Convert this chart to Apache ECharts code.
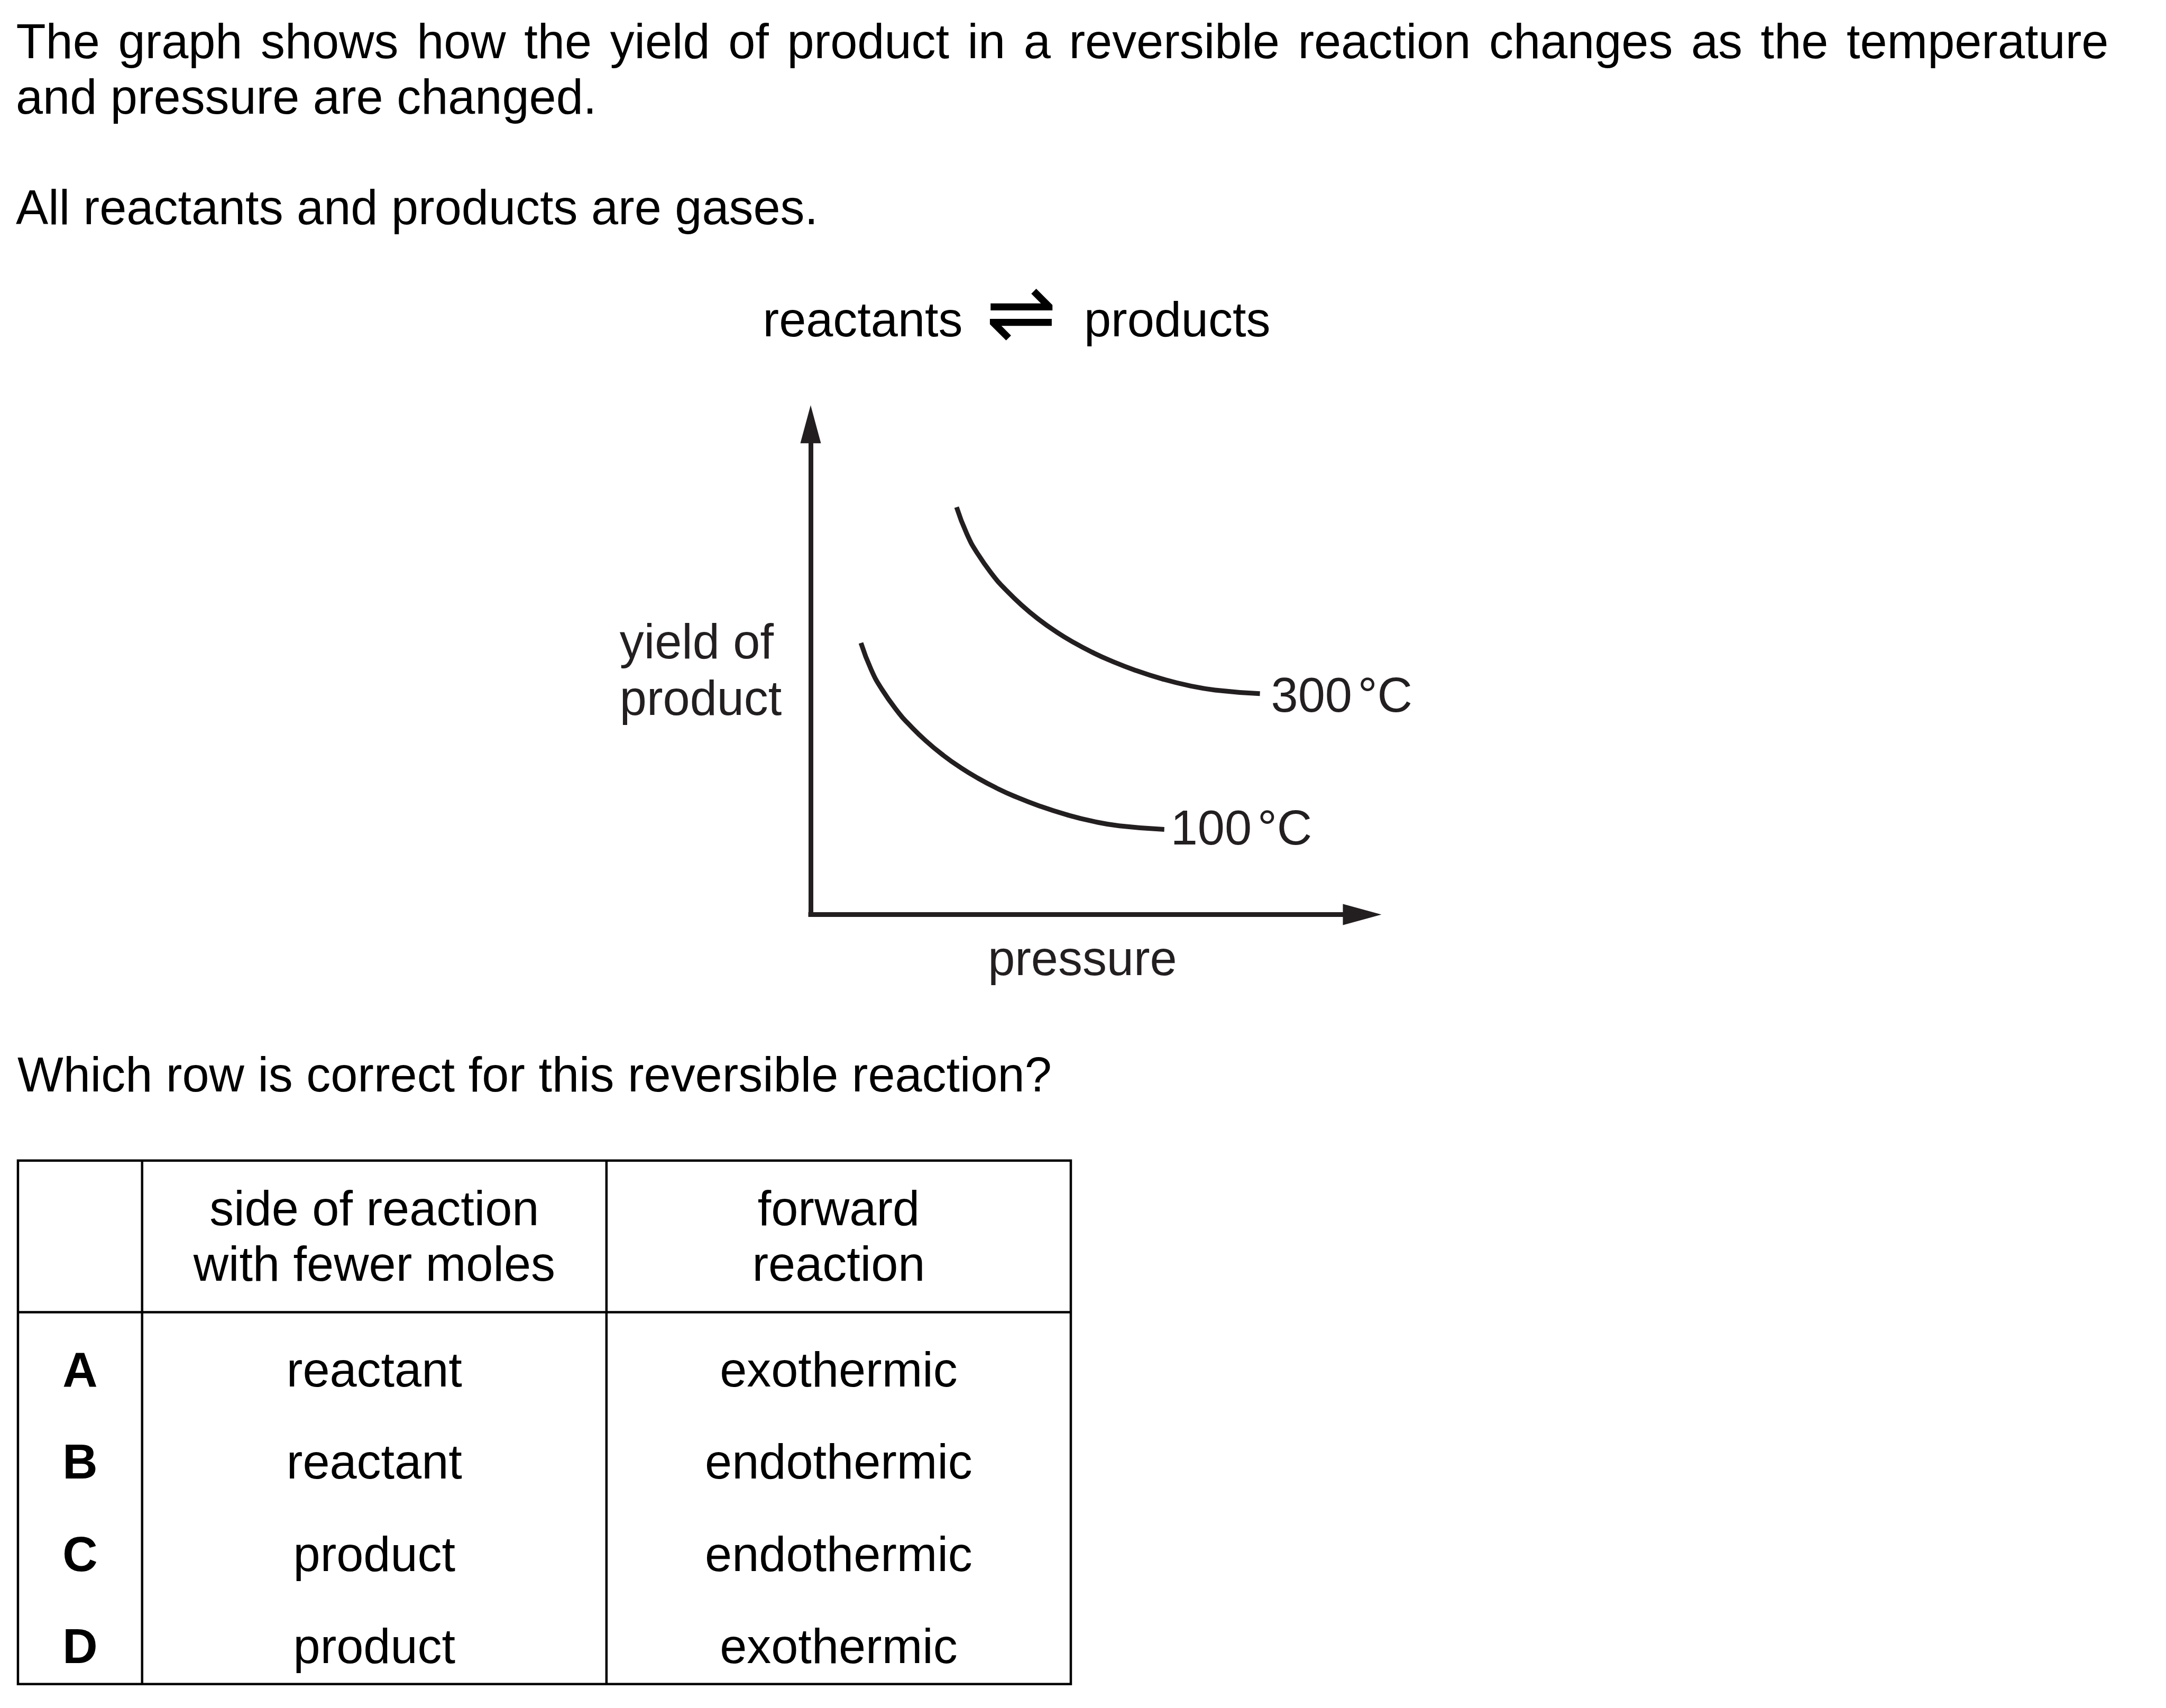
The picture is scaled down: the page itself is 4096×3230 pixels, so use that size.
<!DOCTYPE html>
<html>
<head>
<meta charset="utf-8">
<title>Yield of product against pressure</title>
<script src="https://cdn.jsdelivr.net/npm/echarts@6.0.0/dist/echarts.min.js"></script>
<style>
html, body { margin: 0; padding: 0; background: #ffffff; overflow: hidden; }
#chart { width: 4096px; height: 3230px; }
</style>
</head>
<body>
<div id="chart"></div>
<script>
// ---------------- data ----------------
const introLine1 = 'The graph shows how the yield of product in a reversible reaction changes as the temperature';
const introLine2 = 'and pressure are changed.';
const gasesLine = 'All reactants and products are gases.';
const equationLeft = 'reactants';
const equationArrow = '\u21CC';
const equationRight = 'products';
const yAxisTitle = ['yield of', 'product'];
const xAxisTitle = 'pressure';
const curveNames = ['300 °C', '100 °C'];

// values (arbitrary 0-100 units on both axes)
const pressure300 = [26.46, 28.30, 30.22, 33.41, 35.01, 38.20, 41.40, 44.59, 47.78, 50.98, 54.17, 58.96, 63.74, 68.53, 73.32, 81.46];
const yield300    = [83.09, 77.68, 73.69, 68.67, 66.66, 63.15, 60.16, 57.62, 55.44, 53.53, 51.88, 49.78, 48.06, 46.71, 45.79, 45.06];
const pressure100 = [9.12, 10.96, 12.88, 16.07, 17.67, 20.86, 24.06, 27.25, 30.44, 33.64, 36.83, 41.62, 46.40, 51.19, 55.98, 64.12];
const yield100    = [55.40, 49.99, 46.00, 40.98, 38.97, 35.46, 32.47, 29.93, 27.75, 25.84, 24.19, 22.09, 20.37, 19.02, 18.10, 17.37];

const questionText = 'Which row is correct for this reversible reaction?';
const headerSide = ['side of reaction', 'with fewer moles'];
const headerForward = ['forward', 'reaction'];
const rowLetters = ['A', 'B', 'C', 'D'];
const sideFewerMoles = ['reactant', 'reactant', 'product', 'product'];
const forwardReaction = ['exothermic', 'endothermic', 'endothermic', 'exothermic'];

// ---------------- layout (reference pixels, scaled by S) ----------------
const S = 0.999;
const P = v => v * S;
const FS = P(92);
const FONT = '"Liberation Sans", Arial, Helvetica, sans-serif';
const INK = '#231f20';
const BLACK = '#000000';
const MID = 0.3465;     // canvas "middle" line above baseline, in em
const BASE_FIX = 8;     // measured correction (reference px)

function textAt(text, x, baseline, opts) {
  opts = opts || {};
  const fs = opts.fs || FS;
  return {
    type: 'text', silent: true,
    x: P(x), y: P(baseline + BASE_FIX) - fs * MID,
    style: {
      text: text,
      fontSize: fs,
      fontFamily: opts.family || FONT,
      fontWeight: opts.weight || 'normal',
      fill: opts.fill || BLACK,
      align: opts.align || 'left',
      verticalAlign: 'middle',
      rich: opts.rich
    }
  };
}

// justified first line
const measureCtx = document.createElement('canvas').getContext('2d');
measureCtx.font = 'normal normal ' + FS + 'px ' + FONT;
const words1 = introLine1.split(' ');
const wordsWidth = words1.reduce((s, w) => s + measureCtx.measureText(w).width, 0);
const gapWidth = (P(3991.4 - 30.5) - wordsWidth) / (words1.length - 1);
const justified1 = words1.join('{g| }');

const graphics = [];
graphics.push(textAt(justified1, 30.5, 108.3, {
  rich: { g: { width: gapWidth, fontSize: FS, fontFamily: FONT } }
}));
graphics.push(textAt(introLine2, 30, 213.3));
graphics.push(textAt(gasesLine, 30, 423.3));

// equation
graphics.push(textAt(equationLeft, 1444, 635));
graphics.push({
  type: 'text', silent: true,
  x: P(1933), y: P(600.5 + BASE_FIX * 0.5),
  style: {
    text: equationArrow, fontSize: P(160), fontFamily: '"DejaVu Sans", sans-serif',
    fill: BLACK, align: 'center', verticalAlign: 'middle'
  }
});
graphics.push(textAt(equationRight, 2052, 635));

// axis titles
graphics.push(textAt(yAxisTitle[0], 1173, 1245, { fill: INK }));
graphics.push(textAt(yAxisTitle[1], 1173, 1352, { fill: INK }));
graphics.push(textAt(xAxisTitle, 1870, 1844, { fill: INK }));

// question
graphics.push(textAt(questionText, 33, 2065));

// table
const T = { left: 34, right: 2027, top: 2197, bottom: 3188, headSep: 2484, cols: [269, 1148] };
const LW = P(4.5);
graphics.push({
  type: 'rect', silent: true,
  shape: { x: P(T.left), y: P(T.top), width: P(T.right - T.left), height: P(T.bottom - T.top) },
  style: { fill: 'none', stroke: BLACK, lineWidth: LW }
});
graphics.push({
  type: 'line', silent: true,
  shape: { x1: P(T.left), y1: P(T.headSep), x2: P(T.right), y2: P(T.headSep) },
  style: { stroke: BLACK, lineWidth: LW }
});
T.cols.forEach(cx => {
  graphics.push({
    type: 'line', silent: true,
    shape: { x1: P(cx), y1: P(T.top), x2: P(cx), y2: P(T.bottom) },
    style: { stroke: BLACK, lineWidth: LW }
  });
});
const colCenters = [(T.left + T.cols[0]) / 2, (T.cols[0] + T.cols[1]) / 2, (T.cols[1] + T.right) / 2];
const headerBase = [2318, 2423];
headerSide.forEach((t, i) => graphics.push(textAt(t, colCenters[1], headerBase[i], { align: 'center' })));
headerForward.forEach((t, i) => graphics.push(textAt(t, colCenters[2], headerBase[i], { align: 'center' })));
const rowBase = [2623.5, 2797.5, 2972, 3147];
rowLetters.forEach((t, i) => {
  graphics.push(textAt(t, colCenters[0], rowBase[i], { align: 'center', weight: 'bold' }));
  graphics.push(textAt(sideFewerMoles[i], colCenters[1], rowBase[i], { align: 'center' }));
  graphics.push(textAt(forwardReaction[i], colCenters[2], rowBase[i], { align: 'center' }));
});

// ---------------- chart ----------------
const GRID = { left: 1534.5, top: 803, right: 2578.5, bottom: 1731.3 };

function richName(name) {
  const parts = name.split(' ');
  return '{n|' + parts[0] + '}{d|' + parts[1] + '}';
}
const labelRich = {
  n: { fontSize: FS, fontFamily: FONT, color: INK },
  d: { fontSize: FS, fontFamily: FONT, color: INK, padding: [0, 0, 0, P(11)] }
};

function curveData(xs, ys, name, dist, dy) {
  return xs.map((x, i) => {
    const item = { value: [x, ys[i]] };
    if (i === xs.length - 1) {
      item.label = {
        show: true, position: 'right', distance: P(dist), offset: [0, P(dy + BASE_FIX)],
        formatter: richName(name), rich: labelRich
      };
    }
    return item;
  });
}

function axisCommon(arrowSize) {
  return {
    type: 'value', min: 0, max: 100,
    axisLine: {
      show: true, onZero: false,
      symbol: ['none', 'triangle'],
      symbolSize: arrowSize,
      lineStyle: { color: INK, width: P(9), cap: 'square' }
    },
    axisTick: { show: false },
    axisLabel: { show: false },
    splitLine: { show: false },
    splitArea: { show: false }
  };
}

function curveSeries(name, xs, ys, dist, dy) {
  return {
    name: name, type: 'line',
    data: curveData(xs, ys, name, dist, dy),
    smooth: 0.5,
    symbol: 'circle', symbolSize: 0, showSymbol: true,
    lineStyle: { color: INK, width: P(9), cap: 'butt', join: 'round' },
    itemStyle: { color: INK },
    label: { show: false },
    silent: true,
    clip: false,
    z: 3
  };
}

const chart = echarts.init(document.getElementById('chart'), null, { renderer: 'canvas', width: 4096, height: 3230 });
chart.setOption({
  backgroundColor: '#ffffff',
  animation: false,
  tooltip: { show: false },
  grid: {
    left: P(GRID.left), top: P(GRID.top),
    width: P(GRID.right - GRID.left), height: P(GRID.bottom - GRID.top),
    containLabel: false, outerBoundsMode: 'none'
  },
  xAxis: axisCommon([P(40), P(73)]),
  yAxis: axisCommon([P(39), P(72)]),
  series: [
    curveSeries(curveNames[0], pressure300, yield300, 21, 1),
    curveSeries(curveNames[1], pressure100, yield100, 12, -5)
  ],
  graphic: { elements: graphics }
});
</script>
</body>
</html>
